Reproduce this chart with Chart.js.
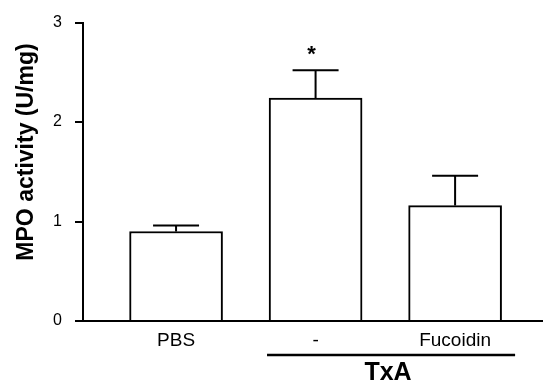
<!DOCTYPE html>
<html>
<head>
<meta charset="utf-8">
<script src="https://cdn.jsdelivr.net/npm/chart.js@4"></script>
<style>
  html, body { margin: 0; padding: 0; background: #fff; }
  #wrap { width: 543px; height: 384px; }
</style>
</head>
<body>
<div id="wrap"><canvas id="mpoChart" width="543" height="384"></canvas></div>
<script>
const categories   = ["PBS", "-", "Fucoidin"];
const mpoMeans     = [0.90, 2.24, 1.16];
const mpoSem       = [0.06, 0.28, 0.30];
const significance = ["", "*", ""];
const yTicks       = [0, 1, 2, 3];
const yTitle       = "MPO activity (U/mg)";
const groupLabel   = "TxA";

const FONT = "'Liberation Sans', Arial, sans-serif";

// error bars, asterisks, group bracket, y title
const extrasPlugin = {
  id: "extras",
  afterDatasetsDraw(chart) {
    const ctx = chart.ctx;
    const x = chart.scales.x;
    const y = chart.scales.y;
    const meta = chart.getDatasetMeta(0);
    ctx.save();
    ctx.strokeStyle = "#000";
    ctx.fillStyle = "#000";
    ctx.lineWidth = 2;
    meta.data.forEach((bar, i) => {
      const top = y.getPixelForValue(mpoMeans[i] + mpoSem[i]);
      const half = 23;
      ctx.beginPath();
      ctx.moveTo(bar.x, bar.y);
      ctx.lineTo(bar.x, top);
      ctx.moveTo(bar.x - half, top);
      ctx.lineTo(bar.x + half, top);
      ctx.stroke();
      if (significance[i]) {
        ctx.font = `bold 22px ${FONT}`;
        ctx.textAlign = "center";
        ctx.textBaseline = "alphabetic";
        ctx.fillText(significance[i], bar.x - 4, top - 9);
      }
    });

    // TxA bracket under the last two groups
    const x0 = x.getPixelForValue(1.652);
    const x1 = x.getPixelForValue(3.43);
    const ly = y.bottom + 34;
    ctx.lineWidth = 2.5;
    ctx.beginPath();
    ctx.moveTo(x0, ly);
    ctx.lineTo(x1, ly);
    ctx.stroke();
    ctx.font = `bold 25px ${FONT}`;
    ctx.textAlign = "center";
    ctx.textBaseline = "middle";
    ctx.fillText(groupLabel, (x0 + x1) / 2 - 3, ly + 18);

    // y axis title
    ctx.translate(27, 152);
    ctx.rotate(-Math.PI / 2);
    ctx.font = `bold 23px ${FONT}`;
    ctx.fillText(yTitle, 0, 0);
    ctx.restore();
  }
};

new Chart(document.getElementById("mpoChart").getContext("2d"), {
  type: "bar",
  data: {
    datasets: [{
      data: mpoMeans.map((v, i) => ({ x: i + 1, y: v })),
      backgroundColor: "#fff",
      borderColor: "#000",
      borderWidth: 2,
      barThickness: 93
    }]
  },
  options: {
    responsive: false,
    animation: false,
    layout: { padding: { top: 16, right: 0, bottom: 0, left: 0 } },
    plugins: { legend: { display: false }, tooltip: { enabled: false } },
    scales: {
      x: {
        type: "linear",
        offset: false,
        min: 0.333,
        max: 3.63,
        afterBuildTicks: s => { s.ticks = categories.map((_, i) => ({ value: i + 1 })); },
        afterFit: s => { s.height = 63; },
        grid: { display: false, drawTicks: false, offset: false },
        border: { display: true, color: "#000", width: 2 },
        ticks: {
          autoSkip: false, maxRotation: 0, padding: 8,
          color: "#000", font: { family: FONT, size: 19 },
          callback: v => categories[v - 1] ?? ""
        }
      },
      y: {
        min: 0,
        max: 3,
        afterBuildTicks: s => { s.ticks = yTicks.map(v => ({ value: v })); },
        afterFit: s => { s.width = 83; },
        grid: { display: true, drawOnChartArea: false, drawTicks: true, tickLength: 8, color: "#000", lineWidth: 2 },
        border: { display: true, color: "#000", width: 2 },
        ticks: { padding: 13, color: "#000", font: { family: FONT, size: 16 } }
      }
    }
  },
  plugins: [extrasPlugin]
});
</script>
</body>
</html>
